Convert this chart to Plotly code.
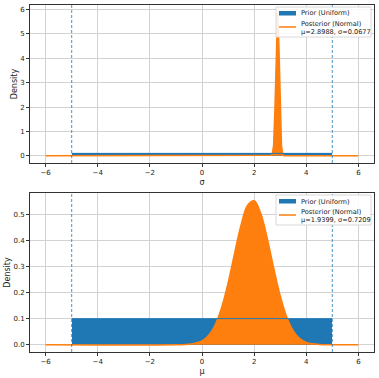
import plotly.graph_objects as go
from plotly.subplots import make_subplots

# ---- data ----
prior_low = -5.0
prior_high = 5.0
prior_density = 0.1

prior_label = "Prior (Uniform)"
post_sigma_label = ["Posterior (Normal)", "μ=2.8988, σ=0.0677"]
post_mu_label = ["Posterior (Normal)", "μ=1.9399, σ=0.7209"]

# posterior density for σ (top)
sig_x = [-6.0, 2.55, 2.65, 2.7, 2.75, 2.8, 2.85, 2.9, 2.95, 3.0, 3.05, 3.1, 3.15, 3.25, 6.0]
sig_y = [0.0, 0.0, 0.02, 0.08, 0.45, 1.99, 4.40, 5.89, 4.55, 1.91, 0.42, 0.05, 0.0, 0.0, 0.0]

# posterior density for μ (bottom)
mu_x = [-6.0, -1.0, -0.5, 0.0, 0.25, 0.5, 0.75, 1.0, 1.25, 1.5, 1.75, 2.0, 2.25,
        2.5, 2.75, 3.0, 3.25, 3.5, 3.75, 4.0, 4.25, 4.5, 5.0, 6.0]
mu_y = [0.0, 0.0001, 0.0018, 0.0148, 0.0354, 0.0748, 0.1416, 0.236, 0.350, 0.459,
        0.534, 0.551, 0.504, 0.409, 0.294, 0.188, 0.106, 0.0532, 0.0237, 0.0093,
        0.0035, 0.001, 0.0001, 0.0]

x_ticks = [-6, -4, -2, 0, 2, 4, 6]

BLUE = "#1f77b4"
ORANGE = "#ff7f0e"
FONT = "DejaVu Sans"

W, H = 379, 378
ML, MR, MT, MB = 30, 5, 5, 26
PW, PH = W - ML - MR, H - MT - MB


def px(xp):
    return (xp - ML) / PW


def py(yp):
    return (H - MB - yp) / PH


fig = make_subplots(rows=2, cols=1, vertical_spacing=0.0)

panels = [
    (1, sig_x, sig_y, post_sigma_label, "σ", [-0.295, 6.19], 1, ".0f", 7),
    (2, mu_x, mu_y, post_mu_label, "μ", [-0.0277, 0.581], 0.1, ".1f", 195),
]

shapes = []
annotations = []

for row, xs, ys, plabel, xtitle, yr, dt, fmt, ltop in panels:
    fig.add_trace(go.Bar(x=[(prior_low + prior_high) / 2], y=[prior_density],
                         width=[prior_high - prior_low],
                         marker=dict(color=BLUE, line=dict(width=0)),
                         name=prior_label, showlegend=False), row=row, col=1)
    fig.add_trace(go.Scatter(x=xs, y=ys, mode="lines", fill="tozeroy",
                             line=dict(color=ORANGE, width=1.5,
                                       shape="spline" if row == 2 else "linear"),
                             fillcolor=ORANGE, name=" ".join(plabel), showlegend=False),
                  row=row, col=1)
    fig.add_trace(go.Scatter(x=[prior_low, prior_high], y=[prior_density, prior_density],
                             mode="lines", line=dict(color=BLUE, width=1), showlegend=False,
                             hoverinfo="skip"), row=row, col=1)
    for xv in (prior_low, prior_high):
        fig.add_vline(x=xv, line=dict(color="rgba(31,119,180,0.8)", width=1, dash="3px,2px"),
                      row=row, col=1)
    fig.update_xaxes(row=row, col=1, range=[-6.6, 6.6], tickvals=x_ticks,
                     title=dict(text=xtitle, standoff=2, font=dict(size=8)))
    fig.update_yaxes(row=row, col=1, range=yr, dtick=dt, tick0=0, tickformat=fmt,
                     title=dict(text="Density", standoff=1, font=dict(size=8)))

    # legend box (drawn manually, matplotlib-like)
    shapes.append(dict(type="rect", xref="paper", yref="paper",
                       x0=px(276), x1=px(371), y0=py(ltop + 30), y1=py(ltop),
                       fillcolor="rgba(255,255,255,0.85)",
                       line=dict(color="#d8d8d8", width=1), layer="above"))
    shapes.append(dict(type="rect", xref="paper", yref="paper",
                       x0=px(279), x1=px(296), y0=py(ltop + 8.5), y1=py(ltop + 4),
                       fillcolor=BLUE, line=dict(width=0), layer="above"))
    shapes.append(dict(type="line", xref="paper", yref="paper",
                       x0=px(279), x1=px(296), y0=py(ltop + 20), y1=py(ltop + 20),
                       line=dict(color=ORANGE, width=1.5), layer="above"))
    annotations.append(dict(xref="paper", yref="paper", x=px(298.5), y=py(ltop + 6.5),
                            xanchor="left", yanchor="middle", showarrow=False,
                            text=prior_label, font=dict(size=6.6, color="#222222")))
    annotations.append(dict(xref="paper", yref="paper", x=px(298.5), y=py(ltop + 16.5),
                            xanchor="left", yanchor="middle", showarrow=False,
                            text=plabel[0], font=dict(size=6.6, color="#222222")))
    annotations.append(dict(xref="paper", yref="paper", x=px(298.5), y=py(ltop + 24.5),
                            xanchor="left", yanchor="middle", showarrow=False,
                            text=plabel[1], font=dict(size=6.6, color="#222222")))

fig.update_xaxes(showgrid=True, gridcolor="#d3d3d3", gridwidth=1, zeroline=False,
                 showline=True, linecolor="#333333", linewidth=1, mirror=True,
                 ticks="outside", ticklen=3, tickcolor="#333333",
                 tickfont=dict(size=7), automargin=False)
fig.update_yaxes(showgrid=True, gridcolor="#d3d3d3", gridwidth=1, zeroline=False,
                 showline=True, linecolor="#333333", linewidth=1, mirror=True,
                 ticks="outside", ticklen=3, tickcolor="#333333",
                 tickfont=dict(size=7), automargin=False)

fig.update_layout(
    width=W, height=H,
    margin=dict(l=ML, r=MR, t=MT, b=MB),
    plot_bgcolor="white", paper_bgcolor="white",
    font=dict(family=FONT, size=7, color="#222222"),
    bargap=0,
    xaxis=dict(domain=[0, 1]), yaxis=dict(domain=[py(163), 1.0]),
    xaxis2=dict(domain=[0, 1]), yaxis2=dict(domain=[0.0, py(193)]),
    showlegend=False,
    shapes=list(fig.layout.shapes) + shapes,
    annotations=list(fig.layout.annotations) + annotations,
)

fig.write_html("out.html", config={"displayModeBar": False},
               post_script="document.body.style.margin='0';document.body.style.overflow='hidden';")
